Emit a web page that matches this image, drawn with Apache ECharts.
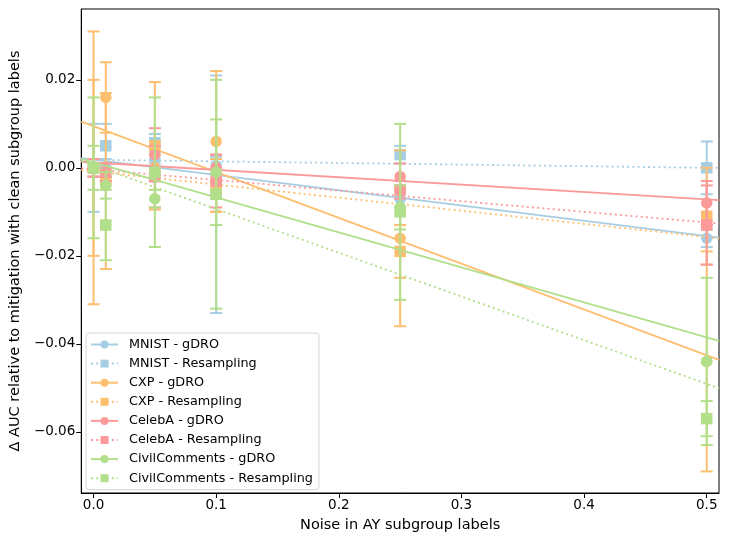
<!DOCTYPE html>
<html><head><meta charset="utf-8">
<script src="https://cdn.jsdelivr.net/npm/echarts@6/dist/echarts.min.js"></script>
<style>html,body{margin:0;padding:0;background:#fff}#c{width:729px;height:545px}</style>
</head><body><div id="c"></div>
<script>
// ---- data ----
const noise = [0, 0.01, 0.05, 0.1, 0.25, 0.5];
const xTicks = [0, 0.1, 0.2, 0.3, 0.4, 0.5];
const yTicks = [-0.06, -0.04, -0.02, 0, 0.02];

const mnistGdro      = [0, 0, 0.002, 0.0005, -0.007, -0.016];
const mnistGdroErr   = [0.002, 0.002, 0.001, 0.002, 0.002, 0.002];
const mnistResamp    = [0, 0.005, 0.0057, -0.006, 0.003, 0.000];
const mnistResampErr = [0.010, 0.005, 0.002, 0.027, 0.002, 0.006];
const cxpGdro        = [0, 0.016, 0.000, 0.006, -0.016, -0.044];
const cxpGdroErr     = [0.031, 0.008, 0.003, 0.016, 0.020, 0.025];
const cxpResamp      = [0, -0.003, 0.005, -0.004, -0.019, -0.011];
const cxpResampErr   = [0.020, 0.020, 0.0145, 0.006, 0.006, 0.011];
const celebaGdro     = [0, -0.001, 0.003, 0.000, -0.002, -0.008];
const celebaGdroErr  = [0.002, 0.002, 0.006, 0.003, 0.003, 0.005];
const celebaResamp   = [0, -0.001, -0.002, -0.003, -0.005, -0.013];
const celebaResampErr= [0.002, 0.002, 0.007, 0.006, 0.002, 0.009];
const civilGdro      = [0, -0.004, -0.007, -0.001, -0.009, -0.044];
const civilGdroErr   = [0.016, 0.003, 0.002, 0.012, 0.005, 0.019];
const civilResamp    = [0, -0.013, -0.001, -0.006, -0.010, -0.057];
const civilResampErr = [0.005, 0.008, 0.017, 0.026, 0.020, 0.004];

const groups = [
  {name:'MNIST - gDRO', vals:mnistGdro, errs:mnistGdroErr, color:'#a6cee3', sym:'circle', dotted:false},
  {name:'MNIST - Resampling', vals:mnistResamp, errs:mnistResampErr, color:'#a6cee3', sym:'rect', dotted:true},
  {name:'CXP - gDRO', vals:cxpGdro, errs:cxpGdroErr, color:'#fdbf6f', sym:'circle', dotted:false},
  {name:'CXP - Resampling', vals:cxpResamp, errs:cxpResampErr, color:'#fdbf6f', sym:'rect', dotted:true},
  {name:'CelebA - gDRO', vals:celebaGdro, errs:celebaGdroErr, color:'#fb9a99', sym:'circle', dotted:false},
  {name:'CelebA - Resampling', vals:celebaResamp, errs:celebaResampErr, color:'#fb9a99', sym:'rect', dotted:true},
  {name:'CivilComments - gDRO', vals:civilGdro, errs:civilGdroErr, color:'#b2df8a', sym:'circle', dotted:false},
  {name:'CivilComments - Resampling', vals:civilResamp, errs:civilResampErr, color:'#b2df8a', sym:'rect', dotted:true}
];

const X_MIN = -0.01, X_MAX = 0.51;
function fit(xs, ys){
  const n = xs.length;
  const mx = xs.reduce((a,b)=>a+b,0)/n, my = ys.reduce((a,b)=>a+b,0)/n;
  let sxy=0, sxx=0;
  for(let i=0;i<n;i++){ sxy+=(xs[i]-mx)*(ys[i]-my); sxx+=(xs[i]-mx)*(xs[i]-mx); }
  const b = sxy/sxx, a = my - b*mx;
  return [[X_MIN, a+b*X_MIN],[X_MAX, a+b*X_MAX]];
}

const fmtMinus = (v,d)=> (v<0?'\u2212':'') + Math.abs(v).toFixed(d);

const series = [];
groups.forEach((g, gi)=>{
  const z = 2 + gi*3;
  series.push({
    type:'custom', name:g.name+' err', z:z, silent:true,
    data: noise.map((x,i)=>[x, g.vals[i], g.errs[i]]),
    renderItem:(params, api)=>{
      const x=api.value(0), y=api.value(1), e=api.value(2);
      const top=api.coord([x,y+e]), bot=api.coord([x,y-e]);
      const hw=6;
      const st={stroke:g.color, lineWidth:2};
      return {type:'group', children:[
        {type:'line', shape:{x1:top[0],y1:top[1],x2:bot[0],y2:bot[1]}, style:st},
        {type:'line', shape:{x1:top[0]-hw,y1:top[1],x2:top[0]+hw,y2:top[1]}, style:st},
        {type:'line', shape:{x1:bot[0]-hw,y1:bot[1],x2:bot[0]+hw,y2:bot[1]}, style:st}
      ]};
    }
  });
  series.push({
    type:'scatter', name:g.name+' pts', z:z+1, silent:true,
    symbol:g.sym, symbolSize:11.5,
    itemStyle:{color:g.color, opacity:1},
    data: noise.map((x,i)=>[x, g.vals[i]])
  });
  series.push({
    type:'line', name:g.name, z:z+2, silent:true,
    symbol:g.sym, symbolSize:7, showSymbol:false,
    itemStyle:{color:g.color},
    lineStyle:{color:g.color, width:1.8, type: g.dotted ? [2,3.2] : 'solid'},
    data: fit(noise, g.vals)
  });
});

const chart = echarts.init(document.getElementById('c'), null, {renderer:'canvas'});
chart.setOption({
  animation:false,
  backgroundColor:'#fff',
  textStyle:{fontFamily:'DejaVu Sans'},
  grid:{left:81, right:10, top:9, bottom:52, show:true, borderColor:'#000', borderWidth:1, backgroundColor:'transparent'},
  legend:{
    data: groups.map(g=>g.name),
    orient:'vertical', left:86, top:333,
    itemWidth:27, itemHeight:10, itemGap:6.1,
    padding:[5,6,5,4],
    backgroundColor:'rgba(255,255,255,0.8)',
    borderColor:'#d6d6d6', borderWidth:1, borderRadius:3,
    selectedMode:false,
    textStyle:{fontFamily:'DejaVu Sans', fontSize:12.8, color:'#000', padding:[0,0,0,6]}
  },
  xAxis:{
    type:'value', min:X_MIN, max:X_MAX,
    name:'Noise in AY subgroup labels', nameLocation:'middle', nameGap:25,
    nameTextStyle:{fontFamily:'DejaVu Sans', fontSize:14.5, color:'#000'},
    axisLine:{show:true, onZero:false, lineStyle:{color:'#000', width:1}},
    axisTick:{show:true, length:5, inside:false, customValues:xTicks, lineStyle:{color:'#000'}},
    axisLabel:{customValues:xTicks, color:'#000', fontSize:13.5, margin:5, formatter:v=>v.toFixed(1)},
    splitLine:{show:false}
  },
  yAxis:{
    type:'value', min:-0.0739, max:0.0361,
    name:'\u0394 AUC relative to mitigation with clean subgroup labels', nameLocation:'middle', nameGap:57,
    nameTextStyle:{fontFamily:'DejaVu Sans', fontSize:14.5, color:'#000'},
    axisLine:{show:true, onZero:false, lineStyle:{color:'#000', width:1}},
    axisTick:{show:true, length:5, inside:false, customValues:yTicks, lineStyle:{color:'#000'}},
    axisLabel:{customValues:yTicks, color:'#000', fontSize:13.5, margin:6, formatter:v=>fmtMinus(v,2)},
    splitLine:{show:false}
  },
  series: series
});
</script>
</body></html>
